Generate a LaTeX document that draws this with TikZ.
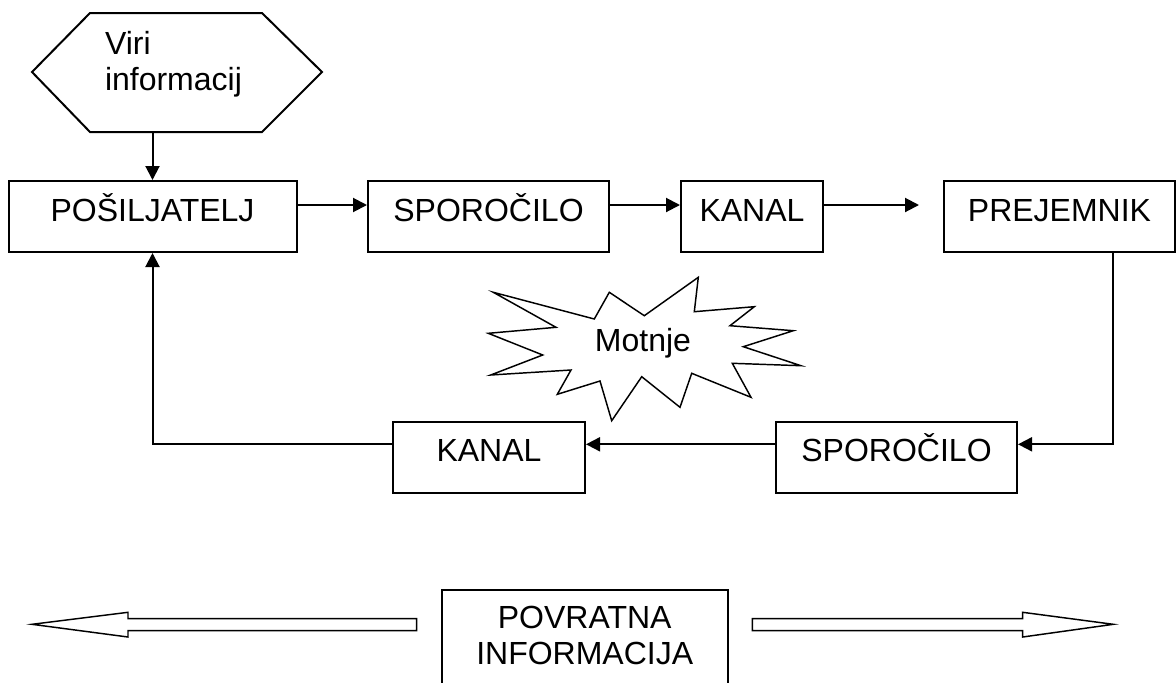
\documentclass[tikz,border=0pt]{standalone}
\usepackage{fontspec}
\setmainfont{Liberation Sans}
\usetikzlibrary{arrows.meta}
\begin{document}
\begin{tikzpicture}[x=0.75pt,y=-0.75pt,
  font=\fontsize{24pt}{27pt}\selectfont,
  line width=1.5pt,
  box/.style={draw,rectangle,inner sep=0pt,text height=30pt,text depth=23.25pt,align=center},
  arr/.style={-{Triangle[length=10.5pt,width=10.5pt]}},
  outline/.style={draw,line width=1.1pt,line join=miter}]
\clip (0,0) rectangle (1176,682);
% source hexagon
\draw[outline,line width=1.5pt] (90,13) -- (262,13) -- (322,72) -- (262,132) -- (90,132) -- (32,72) -- cycle;
\coordinate (hexb) at (152.5,132);
\node[inner sep=0pt,anchor=base west,align=left] (viri) at (104,90) {Viri\\informacij};
% top row
\node[box,minimum width=216pt] (posi) at (152.5,216.5) {POŠILJATELJ};
\node[box,minimum width=180.75pt] (spo1) at (488.5,216.5) {SPOROČILO};
\node[box,minimum width=106.5pt] (kan1) at (752,216.5) {KANAL};
\node[box,minimum width=173.25pt] (prej) at (1059.5,216.5) {PREJEMNIK};
% bottom row
\node[box,minimum width=180.75pt] (spo2) at (896.5,457) {SPOROČILO};
\node[box,minimum width=144pt] (kan2) at (489,457) {KANAL};
% connectors
\coordinate (r1) at (0,205);
\coordinate (r2) at (1113,444.3);
\coordinate (pin) at (919,205);
\draw[arr] (hexb) -- (posi.north);
\draw[arr] (posi.east |- r1) -- (spo1.west |- r1);
\draw[arr] (spo1.east |- r1) -- (kan1.west |- r1);
\draw[arr] (kan1.east |- r1) -- (pin);
\draw[arr] (prej.south -| r2) |- (spo2.east |- r2);
\draw[arr] (spo2.west |- r2) -- (kan2.east |- r2);
\draw[arr] (kan2.west |- r2) -| (posi.south);
% noise starburst
\draw[outline] (493.3,292.3) -- (594.3,319) -- (609.3,292.3) -- (644.3,315.7) -- (698.3,277.3) -- (694.3,311.7) -- (754.3,306.7) -- (730,325.7) -- (793.3,330.7) -- (743.3,346.7) -- (801,365.7) -- (732.3,363.3) -- (751,397.3) -- (691.7,373.3) -- (680,407.3) -- (641.7,376.7) -- (611.7,420.7) -- (600,381) -- (557.3,394.3) -- (571,370) -- (490.7,375) -- (542.7,355) -- (488.3,333.3) -- (556,327.3) -- cycle;
\node[inner sep=0pt,anchor=base] (motnje) at (643,351.7) {Motnje};
% feedback
\node[draw,inner sep=0pt,minimum width=214.5pt,text height=55.7pt,text depth=60pt,align=center,anchor=north] (povr) at (584.7,589) {POVRATNA\\INFORMACIJA};
\draw[outline] (416.7,618.7) -- (128,618.7) -- (128,612.3) -- (32,624.3) -- (128,637) -- (128,630.7) -- (416.7,630.7) -- cycle;
\draw[outline] (752.3,618.7) -- (1022.7,618.7) -- (1022.7,612.3) -- (1113.3,624.3) -- (1022.7,637) -- (1022.7,630.7) -- (752.3,630.7) -- cycle;
\end{tikzpicture}
\end{document}
